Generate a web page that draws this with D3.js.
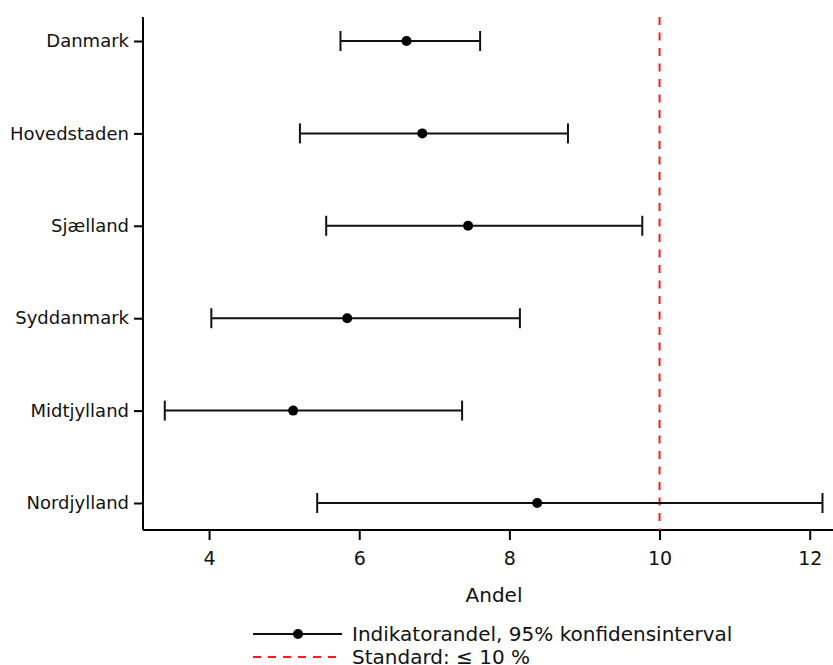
<!DOCTYPE html>
<html>
<head>
<meta charset="utf-8">
<script src="https://cdn.jsdelivr.net/npm/d3@7"></script>
<style>
  body { margin: 0; background: #fff; }
  svg { display: block; font-family: "DejaVu Sans", sans-serif; }
</style>
</head>
<body>
<div id="chart"></div>
<script>
// data
const regions = ["Danmark", "Hovedstaden", "Sjælland", "Syddanmark", "Midtjylland", "Nordjylland"];
const estimates = [6.63, 6.84, 7.45, 5.84, 5.12, 8.37];
const lower = [5.75, 5.21, 5.56, 4.03, 3.41, 5.44];
const upper = [7.61, 8.78, 9.77, 8.14, 7.37, 12.17];
const standard = 10;
const xTicks = [4, 6, 8, 10, 12];

const width = 833, height = 665;
const plotLeft = 143, plotRight = 833, plotTop = 17, plotBottom = 530;

const svg = d3.select("#chart").append("svg")
    .attr("width", width)
    .attr("height", height);

const x = d3.scaleLinear().domain([3.12, 12.31]).range([plotLeft, plotRight]);
const y = d3.scalePoint().domain(regions).range([41, 503]);

// axes
const xAxis = svg.append("g")
    .attr("transform", `translate(0,${plotBottom})`)
    .call(d3.axisBottom(x).tickValues(xTicks).tickSize(10).tickPadding(12).tickSizeOuter(0))
    .attr("font-family", "DejaVu Sans")
    .attr("font-size", 19);
xAxis.select(".domain").attr("d", `M${plotLeft},0H${plotRight}`);

const yAxis = svg.append("g")
    .attr("transform", `translate(${plotLeft},0)`)
    .call(d3.axisLeft(y).tickSize(9).tickPadding(5).tickSizeOuter(0))
    .attr("font-family", "DejaVu Sans")
    .attr("font-size", 18);
yAxis.select(".domain").attr("d", `M0,${plotTop}V${plotBottom}`);

svg.selectAll(".domain").attr("stroke", "#000").attr("stroke-width", 2);
svg.selectAll(".tick line").attr("stroke", "#000").attr("stroke-width", 2);
svg.selectAll(".tick text").attr("fill", "#111");

svg.append("text")
    .attr("x", 494)
    .attr("y", 602)
    .attr("text-anchor", "middle")
    .attr("fill", "#111")
    .style("font-size", "20px")
    .text("Andel");

// standard line
svg.append("line")
    .attr("x1", x(standard)).attr("x2", x(standard))
    .attr("y1", plotTop).attr("y2", plotBottom)
    .attr("stroke", "#ff1a1a")
    .attr("stroke-width", 2)
    .attr("stroke-dasharray", "8,7.5");

// error bars
const rows = regions.map((r, i) => ({ r, est: estimates[i], lo: lower[i], hi: upper[i] }));
const g = svg.append("g").selectAll("g").data(rows).join("g")
    .attr("transform", d => `translate(0,${y(d.r)})`);

g.append("line")
    .attr("x1", d => x(d.lo)).attr("x2", d => x(d.hi))
    .attr("stroke", "#111").attr("stroke-width", 2);
g.append("line")
    .attr("x1", d => x(d.lo)).attr("x2", d => x(d.lo))
    .attr("y1", -10).attr("y2", 10)
    .attr("stroke", "#111").attr("stroke-width", 2);
g.append("line")
    .attr("x1", d => x(d.hi)).attr("x2", d => x(d.hi))
    .attr("y1", -10).attr("y2", 10)
    .attr("stroke", "#111").attr("stroke-width", 2);
g.append("circle")
    .attr("cx", d => x(d.est))
    .attr("r", 5)
    .attr("fill", "#000");

// legend
const legend = svg.append("g").attr("fill", "#111");
legend.append("line")
    .attr("x1", 253).attr("x2", 342).attr("y1", 634).attr("y2", 634)
    .attr("stroke", "#111").attr("stroke-width", 2);
legend.append("circle").attr("cx", 298).attr("cy", 634).attr("r", 5).attr("fill", "#000");
legend.append("text").attr("x", 352).attr("y", 641)
    .style("font-size", "20px").text("Indikatorandel, 95% konfidensinterval");
legend.append("line")
    .attr("x1", 253).attr("x2", 342).attr("y1", 657).attr("y2", 657)
    .attr("stroke", "#ff1a1a").attr("stroke-width", 2).attr("stroke-dasharray", "8,7");
legend.append("text").attr("x", 352).attr("y", 664)
    .style("font-size", "20px").text("Standard: ≤ 10 %");
</script>
</body>
</html>
